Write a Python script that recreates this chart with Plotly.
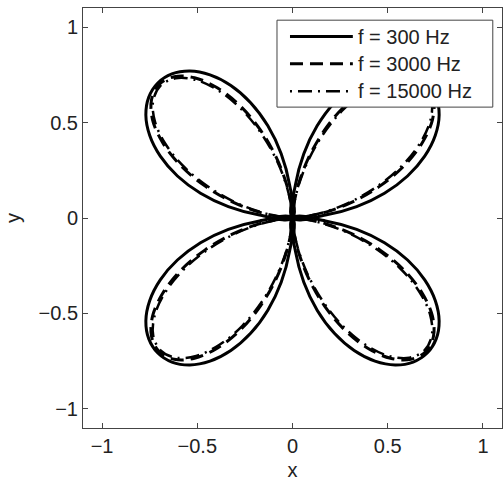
import numpy as np
import plotly.graph_objects as go

# Radiation pattern of one lobe (first quadrant), sampled every 5 degrees.
theta_deg = [0, 5, 10, 15, 20, 25, 30, 35, 40, 45, 50, 55, 60, 65, 70, 75, 80, 85, 90]

r_300 = [0.0, 0.174, 0.342, 0.5, 0.643, 0.766, 0.866, 0.94, 0.985, 1.0,
         0.985, 0.94, 0.866, 0.766, 0.643, 0.5, 0.342, 0.174, 0.0]
r_3000 = [0.0, 0.06, 0.178, 0.327, 0.488, 0.646, 0.786, 0.897, 0.966, 0.99,
          0.966, 0.897, 0.786, 0.646, 0.488, 0.327, 0.178, 0.06, 0.0]
r_15000 = [0.0, 0.05, 0.158, 0.302, 0.462, 0.623, 0.767, 0.882, 0.955, 0.98,
           0.955, 0.882, 0.767, 0.623, 0.462, 0.302, 0.158, 0.05, 0.0]

series_names = ["f = 300 Hz", "f = 3000 Hz", "f = 15000 Hz"]
series_r = [r_300, r_3000, r_15000]
series_dash = ["solid", "13px,7px", "2px,6px,14px,6px"]
series_width = [3, 3, 2.5]

tick_vals = [-1, -0.5, 0, 0.5, 1]

# The pattern has four identical lobes, one per quadrant.
quadrant_offsets = [0, 90, 180, 270]


def four_lobes(r_vals):
    xs, ys = [], []
    th0 = np.radians(np.array(theta_deg, dtype=float))
    r = np.array(r_vals, dtype=float)
    for off in quadrant_offsets:
        th = th0 + np.radians(off)
        xs.extend((r * np.cos(th)).tolist())
        ys.extend((r * np.sin(th)).tolist())
        xs.append(None)
        ys.append(None)
    return xs, ys


fig = go.Figure()
for name, r_vals, dash, width in zip(series_names, series_r, series_dash, series_width):
    x, y = four_lobes(r_vals)
    fig.add_trace(go.Scatter(
        x=x, y=y, mode="lines", name=name, showlegend=False,
        line=dict(color="black", width=width, dash=dash, shape="spline"),
        connectgaps=False,
    ))

font_family = "Liberation Sans, Arial, sans-serif"

# Boxed key in the upper-right corner, with long line samples.
key_left, key_right = 0.463, 0.978
key_top, key_bottom = 0.971, 0.764
key_rows = [0.932, 0.867, 0.802]
sample_x0, sample_x1 = 0.494, 0.644
label_x = 0.652

fig.add_shape(type="rect", xref="paper", yref="paper",
              x0=key_left, x1=key_right, y0=key_bottom, y1=key_top,
              line=dict(color="#444", width=1), fillcolor="white", layer="above")
for name, dash, width, ry in zip(series_names, series_dash, series_width, key_rows):
    fig.add_shape(type="line", xref="paper", yref="paper",
                  x0=sample_x0, x1=sample_x1, y0=ry, y1=ry,
                  line=dict(color="black", width=width, dash=dash), layer="above")
    fig.add_annotation(text=name, xref="paper", yref="paper",
                       x=label_x, y=ry, xanchor="left", yanchor="middle",
                       showarrow=False,
                       font=dict(size=20, color="#222", family=font_family))

axis_common = dict(
    range=[-1.1, 1.1],
    tickvals=tick_vals,
    ticks="inside",
    ticklen=5,
    tickcolor="#444",
    showline=True,
    linecolor="#444",
    linewidth=1,
    mirror="ticks",
    showgrid=False,
    zeroline=False,
    tickfont=dict(size=20, color="#222", family=font_family),
)

fig.update_layout(
    width=503, height=481,
    margin=dict(l=83, r=1, t=8, b=53),
    paper_bgcolor="white",
    plot_bgcolor="white",
    font=dict(family=font_family, color="#222"),
    xaxis=dict(**axis_common,
               title=dict(text="x", font=dict(size=20), standoff=6)),
    yaxis=dict(**axis_common,
               title=dict(text="y", font=dict(size=20), standoff=12)),
    showlegend=False,
)

fig.write_html("out.html")
